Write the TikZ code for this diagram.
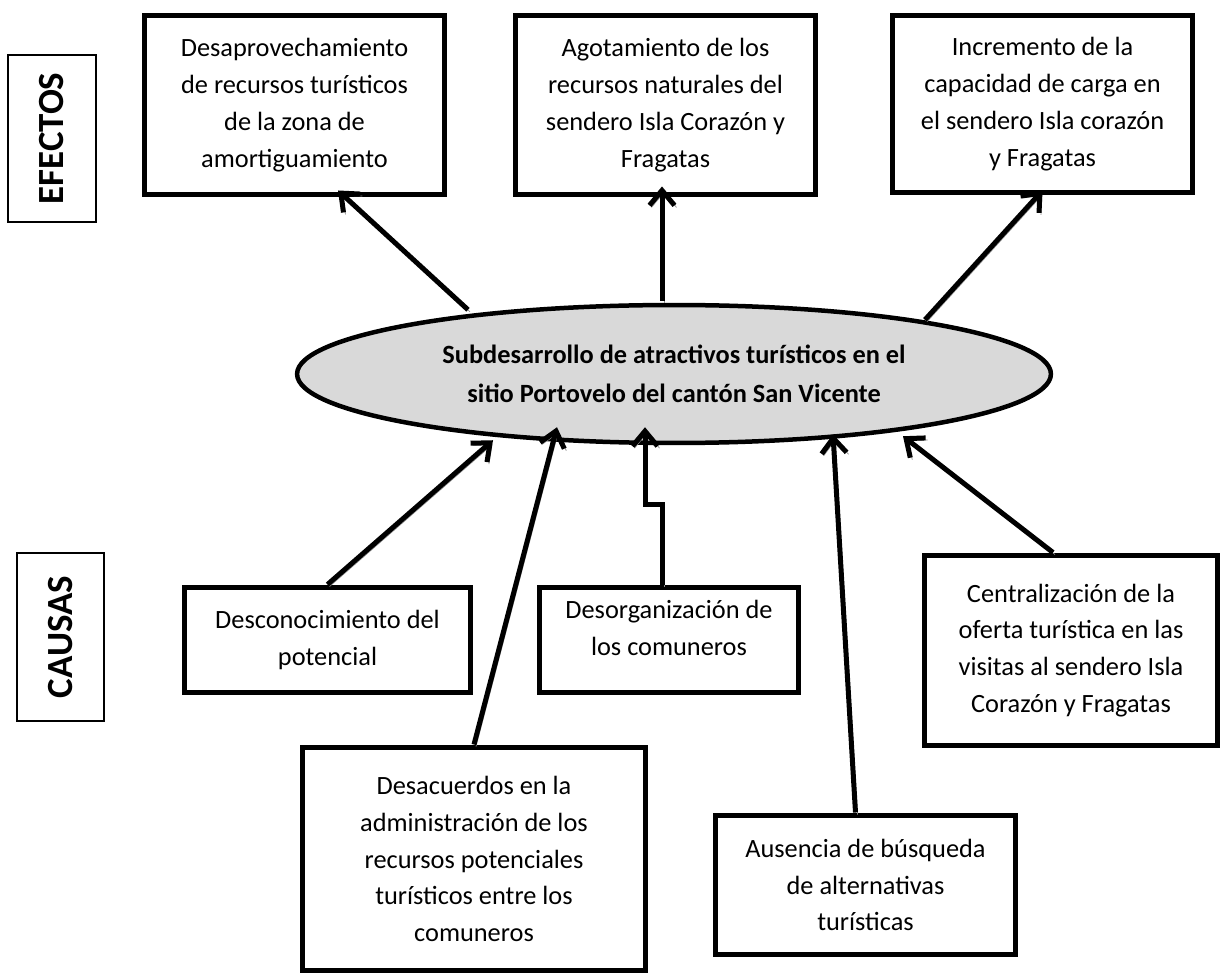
\documentclass[tikz,border=0pt]{standalone}
\usepackage{fontspec}
\setmainfont{Carlito}
\usetikzlibrary{arrows.meta,shapes.geometric,calc}

\begin{document}
\begin{tikzpicture}[x=0.02cm,y=-0.02cm,>={Straight Barb[length=0.3cm,width=0.5cm]},
  box/.style={draw,line width=0.1cm,fill=white,align=center,inner sep=0pt,
    font=\fontsize{15}{21}\selectfont},
  tag/.style={draw,line width=0.7pt,rotate=90,inner sep=0pt,
    font=\fontsize{21}{24}\selectfont\bfseries},
  link/.style={->,line width=0.1cm,
    preaction={draw=black!45,transform canvas={shift={(2,2)}}}}]
\useasboundingbox (0,0) rectangle (1221,976);
% side labels
\node[tag,minimum width=3.34cm,minimum height=1.76cm] (efectos) at (52,138.5) {EFECTOS};
\node[tag,minimum width=3.36cm,minimum height=1.74cm] (causas) at (60.5,637) {CAUSAS};
% problem
\node[ellipse,draw,line width=0.09cm,fill=black!15,inner sep=0pt,
  minimum width=15.08cm,minimum height=2.76cm,align=center,
  font=\fontsize{15}{22}\selectfont\bfseries] (ell) at (674,374)
  {Subdesarrollo de atractivos turísticos en el\\sitio Portovelo del cantón San Vicente};
% effects
\node[box,minimum width=6.02cm,minimum height=3.6cm] (e1) at (294.5,105)
  {Desaprovechamiento\\de recursos turísticos\\de la zona de\\amortiguamiento};
\node[box,minimum width=6.02cm,minimum height=3.6cm] (e2) at (665.5,105)
  {Agotamiento de los\\recursos naturales del\\sendero Isla Corazón y\\Fragatas};
\node[box,minimum width=6.02cm,minimum height=3.56cm] (e3) at (1042.5,104)
  {Incremento de la\\capacidad de carga en\\el sendero Isla corazón\\y Fragatas};
% causes
\node[box,minimum width=5.74cm,minimum height=2.12cm] (c1) at (327.5,640)
  {Desconocimiento del\\potencial};
\node[box,minimum width=5.2cm,minimum height=2.12cm,text depth=14pt] (c2) at (669,640)
  {Desorganización de\\los comuneros};
\node[box,minimum width=6.88cm,minimum height=4.48cm] (c3) at (474,859)
  {Desacuerdos en la\\administración de los\\recursos potenciales\\turísticos entre los\\comuneros};
\node[box,minimum width=6.02cm,minimum height=2.8cm] (c4) at (865.5,885)
  {Ausencia de búsqueda\\de alternativas\\turísticas};
\node[box,minimum width=5.88cm,minimum height=3.82cm] (c5) at (1071,650.5)
  {Centralización de la\\oferta turística en las\\visitas al sendero Isla\\Corazón y Fragatas};
% arrows to effects
\draw[link] ($(ell.north)+(-206,7)$) -- ($(e1.south)+(43.5,-7)$);
\draw[link] ($(ell.north)+(-12,-2)$) -- ($(e2.south)+(-3.5,-11)$);
\draw[link] ($(ell.north)+(251,17)$) -- ($(e3.south)+(0,-5)$);
% arrows from causes
\draw[link] (c1.north) -- ($(ell.south)+(-181,-5)$);
\draw[link] (c3.north) -- ($(ell.south)+(-117,-18)$);
\draw[link] ($(c2.north)+(-7,0)$) |- ($(ell.south)+(-29,59)$) -- ($(ell.south)+(-29,-18)$);
\draw[link] ($(c4.north)+(-10,0)$) -- ($(ell.south)+(159,-11)$);
\draw[link] ($(c5.north)+(-18,0)$) -- ($(ell.south)+(229,-9)$);
\end{tikzpicture}
\end{document}
